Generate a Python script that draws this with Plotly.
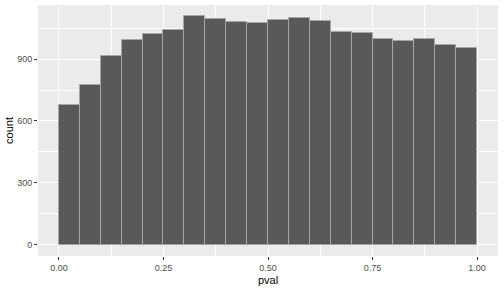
import plotly.graph_objects as go

bin_start = 0.0
bin_width = 0.05
counts = [675, 774, 915, 994, 1023, 1040, 1107, 1095, 1079, 1075,
          1091, 1100, 1083, 1031, 1028, 999, 987, 997, 969, 955]
x_ticks = [0.0, 0.25, 0.5, 0.75, 1.0]
x_tick_labels = ["0.00", "0.25", "0.50", "0.75", "1.00"]
y_ticks = [0, 300, 600, 900]
y_tick_labels = ["0", "300", "600", "900"]
x_title = "pval"
y_title = "count"

centers = [bin_start + bin_width * (i + 0.5) for i in range(len(counts))]

fig = go.Figure()
fig.add_trace(go.Bar(
    x=centers, y=counts, width=bin_width,
    marker=dict(color="#595959", line=dict(color="#a6a6a6", width=1)),
    hoverinfo="skip",
))

ymax = max(counts)
font_fam = "Liberation Sans, Arial, sans-serif"
fig.update_layout(
    width=504, height=288,
    margin=dict(l=38, r=6, t=5, b=32),
    paper_bgcolor="white", plot_bgcolor="#EBEBEB",
    showlegend=False, bargap=0,
    font=dict(family=font_fam, color="#000000"),
    xaxis=dict(
        range=[-0.05, 1.05], tickmode="array", tickvals=x_ticks, ticktext=x_tick_labels,
        showgrid=True, gridcolor="white", gridwidth=1.1,
        minor=dict(showgrid=True, gridcolor="white", gridwidth=0.5, tickmode="array",
                   tickvals=[0.125, 0.375, 0.625, 0.875]),
        ticks="outside", ticklen=3, tickcolor="#333333", tickwidth=1,
        tickfont=dict(size=9, color="#4D4D4D", family=font_fam),
        title=dict(text=x_title, font=dict(size=11, color="#000000", family=font_fam), standoff=4),
        zeroline=False, showline=False,
    ),
    yaxis=dict(
        range=[-0.05 * ymax, 1.05 * ymax], tickmode="array", tickvals=y_ticks, ticktext=y_tick_labels,
        showgrid=True, gridcolor="white", gridwidth=1.1,
        minor=dict(showgrid=True, gridcolor="white", gridwidth=0.5, tickmode="array",
                   tickvals=[150, 450, 750, 1050]),
        ticks="outside", ticklen=3, tickcolor="#333333", tickwidth=1,
        tickfont=dict(size=9, color="#4D4D4D", family=font_fam),
        title=dict(text=y_title, font=dict(size=11, color="#000000", family=font_fam), standoff=1),
        zeroline=False, showline=False,
    ),
)

fig.write_html("out.html")
